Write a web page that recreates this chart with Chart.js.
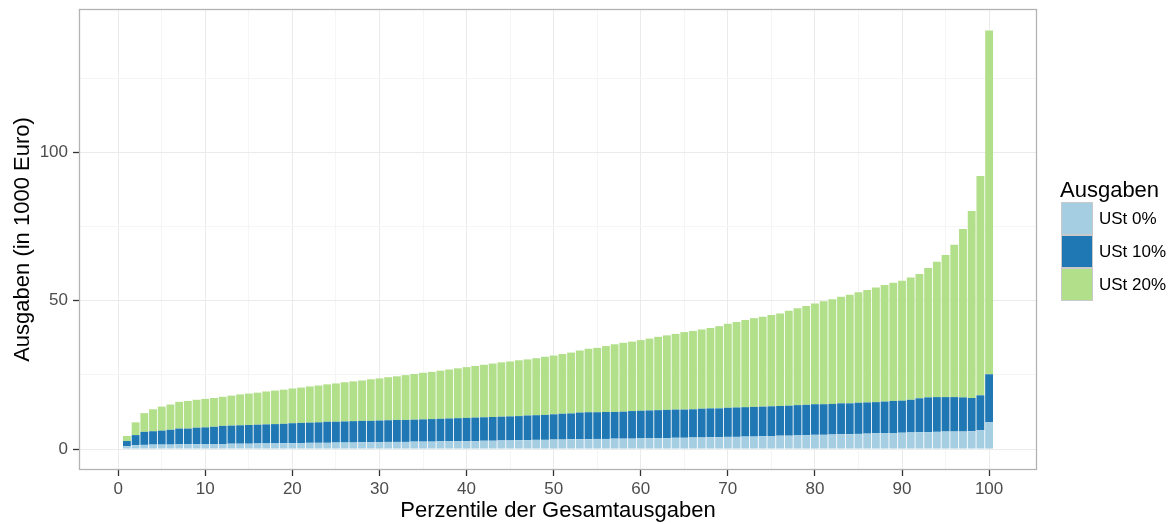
<!DOCTYPE html>
<html>
<head>
<meta charset="utf-8">
<script src="https://cdn.jsdelivr.net/npm/chart.js@4.4.1/dist/chart.umd.min.js"></script>
<style>
  html, body { margin: 0; padding: 0; background: #ffffff; }
  #wrap { position: relative; width: 1176px; height: 524px; font-family: "Liberation Sans", Arial, sans-serif; }
  #chart { position: absolute; left: 0; top: 0; }
  .lg-title { position: absolute; left: 1060px; top: 179px; font-size: 22px; line-height: 22px; color: #000; white-space: nowrap; }
  .lg-key { position: absolute; left: 1061px; width: 30px; height: 31px; border: 1px solid #c9c9c9; box-sizing: content-box; }
  .lg-label { position: absolute; left: 1099px; height: 33px; line-height: 33px; font-size: 17px; color: #000; white-space: nowrap; }
</style>
</head>
<body>
<div id="wrap">
  <canvas id="chart" width="1176" height="524"></canvas>
  <div class="lg-title">Ausgaben</div>
  <div class="lg-key" style="top:202px;background:#A6CEE3;"></div>
  <div class="lg-label" style="top:202px;">USt 0%</div>
  <div class="lg-key" style="top:235px;background:#1F78B4;"></div>
  <div class="lg-label" style="top:235px;">USt 10%</div>
  <div class="lg-key" style="top:268px;background:#B2DF8A;"></div>
  <div class="lg-label" style="top:268px;">USt 20%</div>
</div>
<script>
// ---- data ----
const percentiles = [
  1,2,3,4,5,6,7,8,9,10,11,12,13,14,15,16,17,18,19,20,
  21,22,23,24,25,26,27,28,29,30,31,32,33,34,35,36,37,38,39,40,
  41,42,43,44,45,46,47,48,49,50,51,52,53,54,55,56,57,58,59,60,
  61,62,63,64,65,66,67,68,69,70,71,72,73,74,75,76,77,78,79,80,
  81,82,83,84,85,86,87,88,89,90,91,92,93,94,95,96,97,98,99,100
];

const ust0 = [
  1.0,1.3,1.4,1.5,1.5,1.5,1.6,1.6,1.6,1.7,1.7,1.7,1.8,1.8,1.8,1.9,1.9,1.9,2.0,2.0,
  2.0,2.1,2.1,2.1,2.2,2.2,2.2,2.3,2.3,2.3,2.4,2.4,2.4,2.5,2.5,2.5,2.6,2.6,2.7,2.7,
  2.7,2.8,2.8,2.9,2.9,3.0,3.0,3.1,3.1,3.2,3.2,3.3,3.3,3.3,3.4,3.4,3.5,3.5,3.5,3.6,
  3.6,3.7,3.7,3.8,3.8,3.9,3.9,4.0,4.0,4.1,4.1,4.2,4.2,4.3,4.4,4.5,4.5,4.6,4.7,4.8,
  4.8,4.9,5.0,5.0,5.1,5.2,5.3,5.4,5.4,5.5,5.6,5.7,5.7,5.8,5.9,5.9,5.9,6.0,6.3,9.0
];

const ust10 = [
  1.7,3.4,4.4,4.5,4.7,5.0,5.3,5.3,5.6,5.6,5.8,6.1,6.1,6.2,6.3,6.3,6.4,6.5,6.5,6.7,
  6.8,6.8,6.9,7.1,7.0,7.1,7.2,7.2,7.2,7.3,7.3,7.4,7.4,7.4,7.5,7.6,7.6,7.7,7.7,7.8,
  7.9,7.9,8.0,8.0,8.1,8.1,8.3,8.3,8.4,8.5,8.7,8.7,9.0,9.1,9.0,9.1,9.0,9.1,9.3,9.3,
  9.4,9.4,9.5,9.5,9.5,9.5,9.7,9.7,9.7,9.8,9.9,9.9,10.0,10.0,10.0,10.0,10.1,10.2,10.2,10.3,
  10.3,10.3,10.4,10.4,10.5,10.5,10.5,10.6,10.8,10.8,11.0,11.4,11.7,11.7,11.6,11.6,11.5,11.2,11.8,16.2
];

const ust20 = [
  1.7,4.3,6.3,7.4,8.1,8.5,9.0,9.3,9.4,9.6,9.7,9.8,10.1,10.4,10.6,10.8,11.1,11.3,11.5,11.7,
  11.9,12.2,12.4,12.6,12.9,13.2,13.4,13.6,14.0,14.2,14.5,14.7,15.1,15.4,15.7,15.9,16.2,16.5,16.8,17.1,
  17.4,17.7,18.0,18.3,18.5,18.8,18.9,19.2,19.6,19.8,20.1,20.5,20.9,21.4,21.7,22.2,22.8,23.2,23.4,23.8,
  24.2,24.7,25.1,25.5,26.1,26.4,26.7,27.1,27.7,28.3,28.8,29.4,29.9,30.3,30.8,31.2,32.0,32.6,33.3,33.9,
  34.7,35.3,35.9,36.6,37.2,37.9,38.6,39.3,39.8,40.4,41.2,41.9,43.6,45.6,47.9,51.3,56.7,63.0,73.9,115.8
];

const seriesNames = ["USt 0%", "USt 10%", "USt 20%"];
const seriesColors = ["#A6CEE3", "#1F78B4", "#B2DF8A"];

const xTickValues = [0,5,10,15,20,25,30,35,40,45,50,55,60,65,70,75,80,85,90,95,100];
const yTickValues = [0,25,50,75,100,125];

const FONT = "'Liberation Sans', Arial, sans-serif";

function toPoints(arr) { return arr.map((v, i) => ({ x: percentiles[i], y: v })); }

const panelBorder = {
  id: 'panelBorder',
  afterDraw(chart) {
    const a = chart.chartArea, ctx = chart.ctx;
    ctx.save();
    ctx.strokeStyle = '#b3b3b3';
    ctx.lineWidth = 1.3;
    ctx.strokeRect(a.left + 0.5, a.top + 0.5, a.right - a.left - 1, a.bottom - a.top - 1);
    ctx.restore();
  }
};

new Chart(document.getElementById('chart'), {
  type: 'bar',
  data: {
    datasets: [
      { label: seriesNames[0], data: toPoints(ust0), backgroundColor: seriesColors[0], borderWidth: 0 },
      { label: seriesNames[1], data: toPoints(ust10), backgroundColor: seriesColors[1], borderWidth: 0 },
      { label: seriesNames[2], data: toPoints(ust20), backgroundColor: seriesColors[2], borderWidth: 0 }
    ]
  },
  options: {
    responsive: false,
    animation: false,
    devicePixelRatio: 1,
    layout: { padding: { top: 9, right: 139, left: 0, bottom: 0 } },
    plugins: { legend: { display: false }, tooltip: { enabled: false } },
    datasets: { bar: { barPercentage: 0.9, categoryPercentage: 1.0 } },
    scales: {
      x: {
        type: 'linear',
        stacked: true,
        min: -4.5,
        max: 105.5,
        offset: false,
        afterBuildTicks: (s) => { s.ticks = xTickValues.map(v => ({ value: v })); },
        afterFit: (s) => { s.height = 54; s.paddingLeft = 0; s.paddingRight = 0; },
        ticks: {
          autoSkip: false, maxRotation: 0, minRotation: 0, padding: 3,
          color: '#4d4d4d', font: { size: 17, family: FONT },
          callback: (v) => (v % 10 === 0 ? String(v) : '')
        },
        grid: {
          offset: false,
          lineWidth: 1,
          color: (c) => (c.tick && c.tick.value % 10 === 0 ? '#ebebeb' : '#f5f5f5'),
          tickColor: (c) => (c.tick && c.tick.value % 10 === 0 ? '#333333' : 'rgba(0,0,0,0)'),
          tickLength: 6,
          tickWidth: 1.3
        },
        border: { display: false },
        title: {
          display: true, text: 'Perzentile der Gesamtausgaben', color: '#000',
          font: { size: 22, family: FONT }, padding: { top: 0, bottom: 0 }
        }
      },
      y: {
        type: 'linear',
        stacked: true,
        min: -7.06,
        max: 148.26,
        afterBuildTicks: (s) => { s.ticks = yTickValues.map(v => ({ value: v })); },
        afterFit: (s) => { s.width = 79; s.paddingTop = 0; s.paddingBottom = 0; },
        ticks: {
          autoSkip: false, padding: 5,
          color: '#4d4d4d', font: { size: 17, family: FONT },
          callback: (v) => (v % 50 === 0 ? String(v) : '')
        },
        grid: {
          lineWidth: 1,
          color: (c) => (c.tick && c.tick.value % 50 === 0 ? '#ebebeb' : '#f5f5f5'),
          tickColor: (c) => (c.tick && c.tick.value % 50 === 0 ? '#333333' : 'rgba(0,0,0,0)'),
          tickLength: 6,
          tickWidth: 1.3
        },
        border: { display: false },
        title: {
          display: true, text: 'Ausgaben (in 1000 Euro)', color: '#000',
          font: { size: 22, family: FONT }, padding: { top: 10, bottom: 0 }
        }
      }
    }
  },
  plugins: [panelBorder]
});
</script>
</body>
</html>
